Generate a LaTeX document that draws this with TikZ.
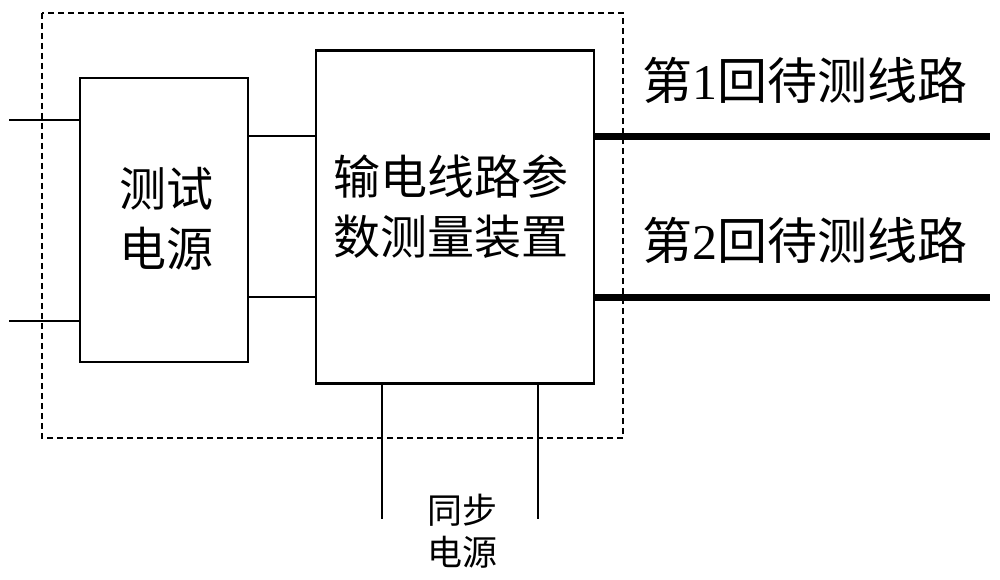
\documentclass[tikz,border=0pt]{standalone}
\usepackage{fontspec}
\newfontfamily\cjk{Noto Sans CJK SC}
\newfontfamily\digitfont{Liberation Serif}
\begin{document}
\begin{tikzpicture}[x=1pt,y=-1pt,
  boxstyle/.style={draw=black, line width=2.8pt, fill=white, inner sep=0pt},
  wire/.style={line width=2.8pt},
  thickwire/.style={line width=7pt},
  frame/.style={line width=1.3pt, dash pattern=on 6pt off 4pt},
  bigtext/.style={inner sep=0pt, align=center, font=\cjk\fontsize{47}{60}\selectfont},
  labeltext/.style={inner sep=0pt, align=center, font=\cjk\fontsize{50}{60}\selectfont},
  smalltext/.style={inner sep=0pt, align=center, font=\cjk\fontsize{35}{42}\selectfont}
]
\useasboundingbox (0,0) rectangle (1000,580);
% boxes
\node[boxstyle, minimum width=168pt, minimum height=284pt] (tp) at (164,220) {};
\node[boxstyle, minimum width=278pt, minimum height=333pt] (dev) at (455,217) {};
\node[bigtext] (tptext) at (166,219) {测试\\电源};
\node[bigtext] (devtext) at (451,207) {输电线路参\\数测量装置};
% input lines
\coordinate (in1) at (9,120);
\coordinate (in2) at (9,321);
\draw[wire] (in1) -- (in1 -| tp.west);
\draw[wire] (in2) -- (in2 -| tp.west);
% connections between boxes
\coordinate (c1) at (0,136);
\coordinate (c2) at (0,297);
\draw[wire] (tp.east |- c1) -- (dev.west |- c1);
\draw[wire] (tp.east |- c2) -- (dev.west |- c2);
% output lines
\coordinate (o1) at (990,137);
\coordinate (o2) at (990,297);
\draw[thickwire] (dev.east |- o1) -- (o1);
\draw[thickwire] (dev.east |- o2) -- (o2);
% labels
\node[labeltext] (l1) at (805,80) {第{\digitfont 1}回待测线路};
\node[labeltext] (l2) at (805,240) {第{\digitfont 2}回待测线路};
% sync supply
\coordinate (s1) at (382,519);
\coordinate (s2) at (538,519);
\draw[wire] (dev.south -| s1) -- (s1);
\draw[wire] (dev.south -| s2) -- (s2);
\node[smalltext] (sync) at (462,531) {同步\\电源};
% dashed enclosure (on top)
\draw[frame] (42,13) rectangle (623,438);
\end{tikzpicture}
\end{document}
